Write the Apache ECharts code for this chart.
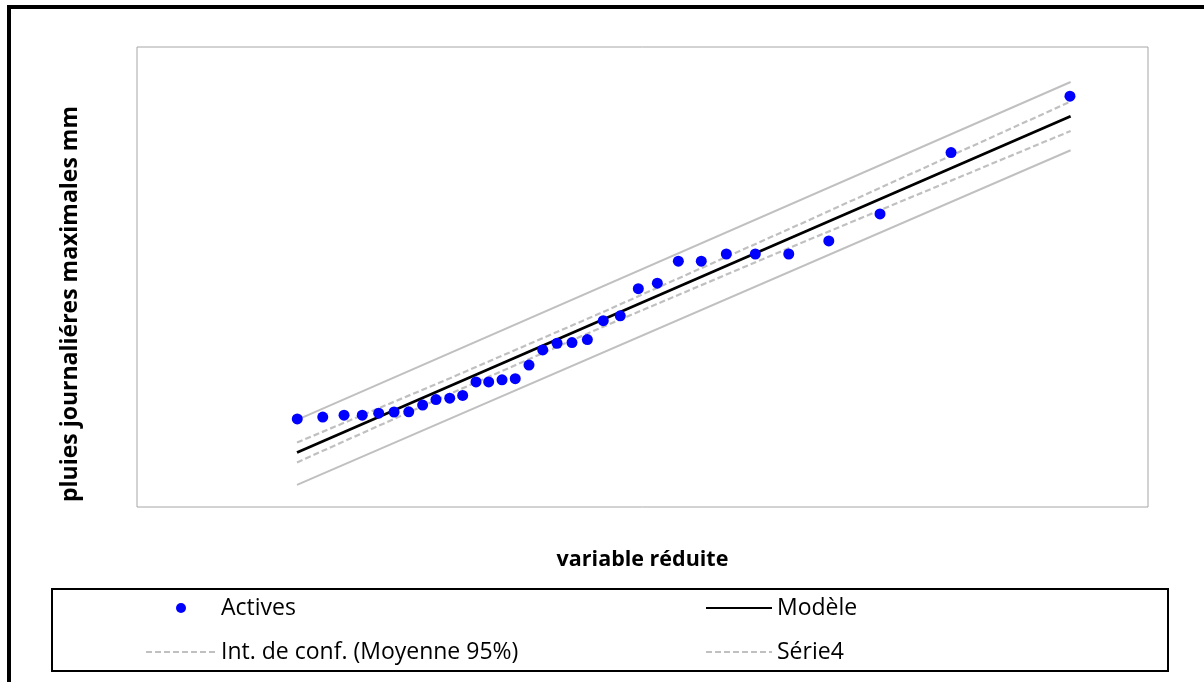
<!DOCTYPE html>
<html>
<head>
<meta charset="utf-8">
<title>pluies journalières maximales</title>
<script src="https://cdn.jsdelivr.net/npm/echarts@6/dist/echarts.min.js"></script>
<style>
  html, body { margin: 0; padding: 0; background: #fff; }
  #chart { width: 1204px; height: 682px; }
</style>
</head>
<body>
<div id="chart"></div>
<script>
// variable réduite des observations (Actives)
const xActives = [-1.311, -1.122, -0.964, -0.829, -0.707, -0.593, -0.484, -0.381, -0.282, -0.180, -0.084,
  0.015, 0.109, 0.208, 0.306, 0.408, 0.510, 0.616, 0.727, 0.841, 0.959, 1.085, 1.219, 1.360, 1.516,
  1.686, 1.872, 2.087, 2.335, 2.632, 3.012, 3.539, 4.421];
// pluies journalières maximales (mm)
const yActives = [58.3, 59.1, 59.9, 59.9, 60.8, 61.3, 61.4, 64.3, 66.7, 67.3, 68.5,
  74.4, 74.4, 75.3, 75.8, 81.7, 88.3, 91.2, 91.5, 92.8, 101.0, 103.1, 114.9, 117.3, 126.9,
  126.9, 130.0, 130.0, 130.0, 135.7, 147.4, 174.1, 198.6];

// droite du modèle et intervalles de prédiction (extrémités)
const xEnds = [-1.313, 4.426];
const yModel = [43.7, 189.9];
const yPredUpper = [57.9, 204.8];
const yPredLower = [29.6, 175.1];

// intervalle de confiance de la moyenne (lu à quelques abscisses)
const xBand = [-1.313, -0.178, 0.935, 2.419, 4.426];
const yConfUpper = [48.0, 76.0, 104.2, 143.0, 196.3];
const yConfLower = [39.4, 69.2, 97.8, 134.6, 183.5];

function pairs(xs, ys) {
  return xs.map((x, i) => [x, ys[i]]);
}

const myChart = echarts.init(document.getElementById('chart'));

const grayLine = { color: '#c0c0c0', width: 2 };
const dashLine = { color: '#c0c0c0', width: 2.2, type: [6, 3] };
const legendText = { fontFamily: 'Open Sans', fontSize: 23, color: '#000', lineHeight: 24 };
const noDot = { opacity: 0 };

myChart.setOption({
  animation: false,
  backgroundColor: '#fff',
  grid: {
    left: 137, top: 47, width: 1011, height: 460,
    show: true, borderColor: '#a6a6a6', borderWidth: 1
  },
  xAxis: {
    type: 'value', min: -2.5, max: 5,
    axisLine: { show: false }, axisTick: { show: false },
    axisLabel: { show: false }, splitLine: { show: false },
    name: 'variable réduite', nameLocation: 'middle', nameGap: 42,
    nameTextStyle: { fontFamily: 'Open Sans', fontWeight: 'bold', fontSize: 21.5, color: '#000' }
  },
  yAxis: {
    type: 'value', min: 20, max: 220,
    axisLine: { show: false }, axisTick: { show: false },
    axisLabel: { show: false }, splitLine: { show: false }
  },
  legend: [
    {
      orient: 'vertical', left: 145, top: 596, padding: 0,
      itemWidth: 70, itemHeight: 10, itemGap: 20,
      textStyle: legendText,
      data: ['Actives', { name: 'Int. de conf. (Moyenne 95%)', itemStyle: noDot }]
    },
    {
      orient: 'vertical', left: 705, top: 596, padding: 0,
      itemWidth: 66, itemHeight: 10, itemGap: 20,
      textStyle: legendText,
      data: [{ name: 'Modèle', itemStyle: noDot }, { name: 'Série4', itemStyle: noDot }]
    }
  ],
  graphic: [
    // cadre extérieur
    { type: 'rect', shape: { x: 9, y: 7, width: 1400, height: 900 },
      style: { fill: null, stroke: '#000', lineWidth: 4 }, silent: true },
    // cadre de la légende
    { type: 'rect', shape: { x: 52, y: 589, width: 1116, height: 82 },
      style: { fill: null, stroke: '#000', lineWidth: 2 }, silent: true, z: -1 },
    // titre de l'axe vertical
    { type: 'text', x: 70, y: 304, rotation: Math.PI / 2,
      style: { text: 'pluies journaliéres maximales mm', fontFamily: 'Open Sans', fontWeight: 'bold',
        fontSize: 23, fill: '#000', align: 'center', verticalAlign: 'middle' } }
  ],
  series: [
    {
      name: 'Int. de conf. (Obs. 95%)', type: 'line', symbol: 'none',
      lineStyle: grayLine, data: pairs(xEnds, yPredUpper)
    },
    {
      name: 'Série6', type: 'line', symbol: 'none',
      lineStyle: grayLine, data: pairs(xEnds, yPredLower)
    },
    {
      name: 'Int. de conf. (Moyenne 95%)', type: 'line', symbol: 'none',
      lineStyle: dashLine, itemStyle: { color: '#c0c0c0' }, data: pairs(xBand, yConfUpper)
    },
    {
      name: 'Série4', type: 'line', symbol: 'none',
      lineStyle: dashLine, itemStyle: { color: '#c0c0c0' }, data: pairs(xBand, yConfLower)
    },
    {
      name: 'Modèle', type: 'line', symbol: 'none',
      lineStyle: { color: '#000', width: 2.8 }, itemStyle: { color: '#000' },
      data: pairs(xEnds, yModel)
    },
    {
      name: 'Actives', type: 'scatter', symbol: 'circle', symbolSize: 11,
      itemStyle: { color: '#0000ff', opacity: 1 }, z: 5,
      data: pairs(xActives, yActives)
    }
  ]
});
</script>
</body>
</html>
